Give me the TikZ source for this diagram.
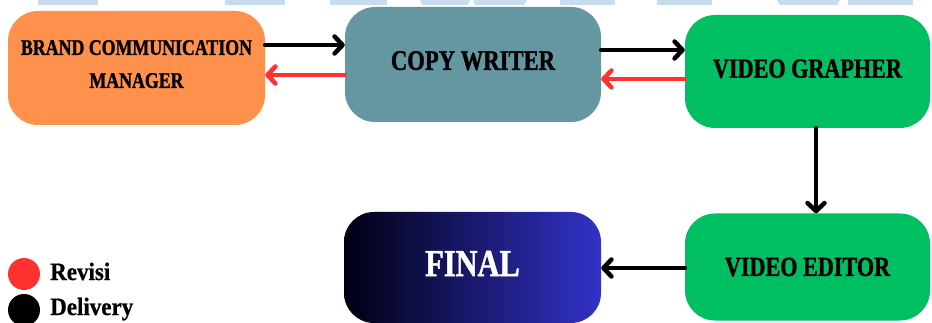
\documentclass[tikz,border=0pt]{standalone}
\usepackage{fontspec}
\setmainfont{Liberation Serif}
\newfontfamily\condfont[FakeStretch=0.8,FakeBold=1.2]{Liberation Serif}
\newfontfamily\legfont[FakeStretch=0.92,FakeBold=0.8]{Liberation Serif}
\usetikzlibrary{arrows.meta}
\definecolor{bcmorange}{RGB}{255,145,77}
\definecolor{cwteal}{RGB}{101,151,163}
\definecolor{vgreen}{RGB}{0,191,99}
\definecolor{revred}{RGB}{255,49,49}
\definecolor{wmblue}{RGB}{201,220,238}
\definecolor{finleft}{RGB}{0,0,18}
\definecolor{finright}{RGB}{50,50,200}
\tikzset{
  box/.style={rectangle, rounded corners=30pt, inner sep=0pt, align=center,
    font=\condfont\bfseries, text=black},
  flow/.style={line width=4.5pt, line cap=round,
    -{Straight Barb[length=8pt,width=17pt,line cap=round,line join=round]}},
  delivery/.style={flow, draw=black},
  revisi/.style={flow, draw=revred},
  wm/.style={fill=wmblue, draw=none},
  dot/.style={circle, minimum size=32pt, inner sep=0pt, draw=none},
  legtext/.style={anchor=base west, inner sep=0pt, font=\legfont\bfseries\fontsize{25}{30}\selectfont}
}
\begin{document}
\begin{tikzpicture}[x=1pt,y=-1pt]
\useasboundingbox[fill=white] (0,0) rectangle (932,323);
% watermark fragments at the top edge
\fill[wm] (38,0) rectangle (98,5);
\fill[wm] (225,0) rectangle (285,5);
\fill[wm] (330,0) rectangle (387,5);
\fill[wm] (420,0) -- (470,0) -- (468,5) -- (422,5) -- cycle;
\fill[wm] (473,0) -- (527,0) -- (524,5) -- (475,5) -- cycle;
\fill[wm] (560,0) rectangle (615,5);
\fill[wm] (657,0) rectangle (712,5);
\fill[wm] (777,0) -- (840,0) -- (837,5) -- (780,5) -- cycle;
\fill[wm] (848,0) rectangle (913,5);

% process boxes
\node[box, fill=bcmorange, minimum width=257pt, minimum height=114pt, text depth=8pt,
  font=\condfont\bfseries\fontsize{22.3}{33}\selectfont]
  (bcm) at (136.5,68) {BRAND COMMUNICATION\\MANAGER};
\node[box, fill=cwteal, minimum width=256pt, minimum height=115pt, text depth=8pt,
  font=\condfont\bfseries\fontsize{28.3}{34}\selectfont]
  (cw) at (473,64.5) {COPY WRITER};
\node[box, fill=vgreen, minimum width=245pt, minimum height=113pt, text depth=6pt,
  font=\condfont\bfseries\fontsize{27.7}{34}\selectfont]
  (vg) at (807.5,71.5) {VIDEO GRAPHER};
\node[box, fill=vgreen, minimum width=245pt, minimum height=107pt,
  font=\condfont\bfseries\fontsize{27.7}{34}\selectfont]
  (ve) at (807.5,267) {VIDEO EDITOR};
\node[box, left color=finleft, right color=finright, minimum width=257pt, minimum height=111pt,
  text=white, text depth=8pt, font=\condfont\bfseries\fontsize{38}{44}\selectfont]
  (final) at (472.5,267.5) {FINAL};

% connectors
\draw[delivery] ([yshift=23pt]bcm.east) -- ([yshift=19.5pt]cw.west);
\draw[revisi] ([yshift=-10.5pt]cw.west) -- ([yshift=-7pt]bcm.east);
\draw[delivery] ([yshift=14.5pt]cw.east) -- ([yshift=21.5pt]vg.west);
\draw[revisi] ([yshift=-7.5pt]vg.west) -- ([yshift=-14.5pt]cw.east);
\draw[delivery] ([xshift=8.5pt]vg.south) -- ([xshift=8.5pt]ve.north);
\draw[delivery] ([yshift=-1pt]ve.west) -- ([yshift=-0.5pt]final.east);

% legend
\node[dot, fill=revred] (lred) at (24,274) {};
\node[dot, fill=black] (lblack) at (24,310) {};
\node[legtext] (lrevisi) at (50,280) {Revisi};
\node[legtext] (ldelivery) at (50,315) {Delivery};
\end{tikzpicture}
\end{document}
